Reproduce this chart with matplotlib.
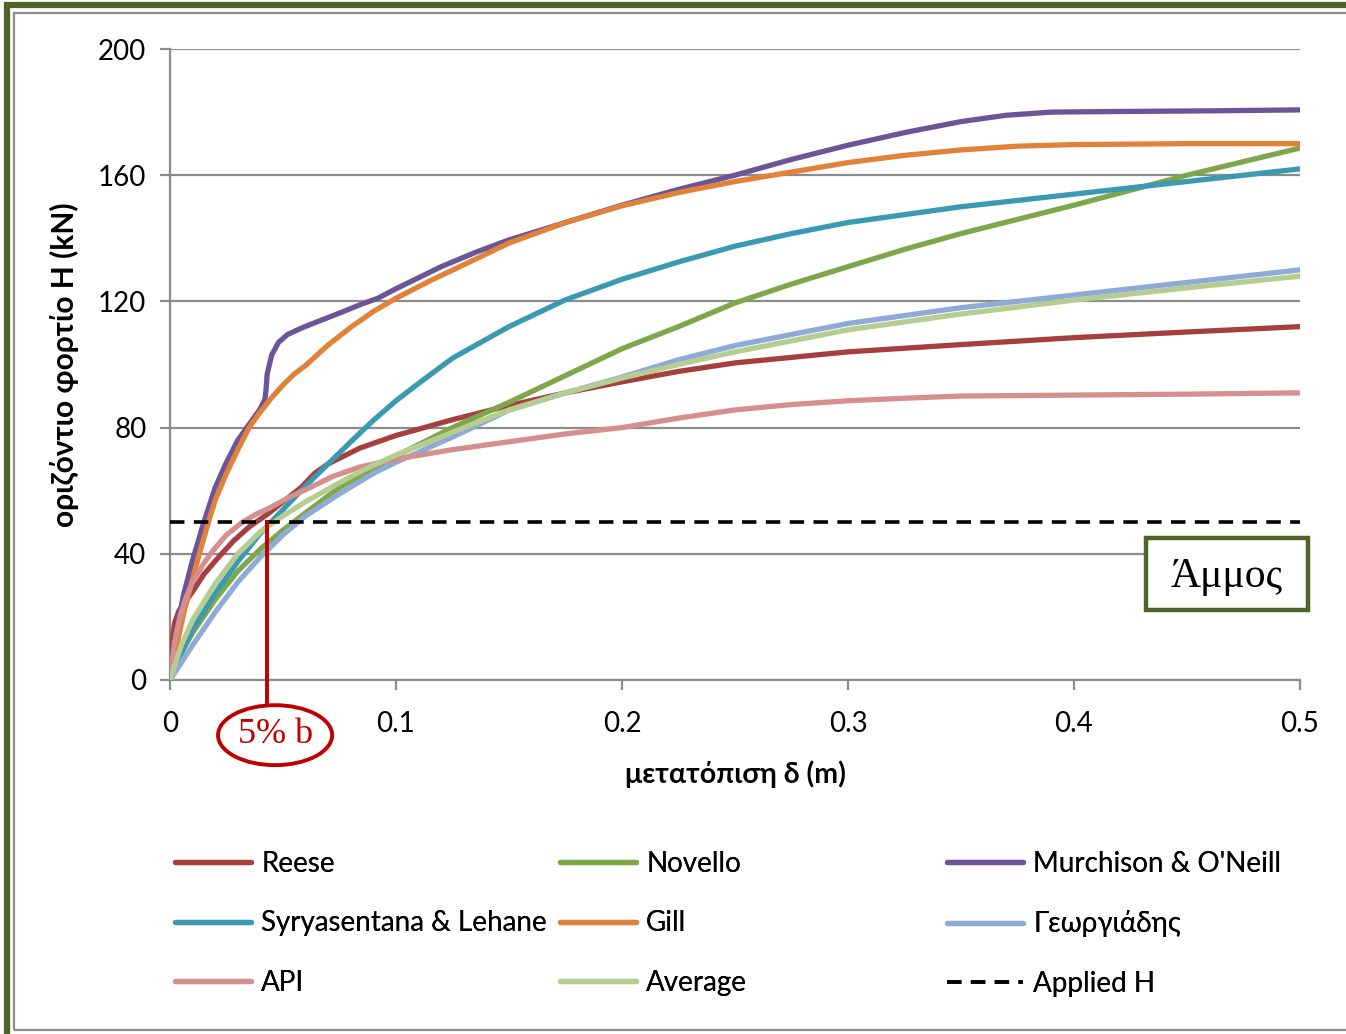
import matplotlib.pyplot as plt
from matplotlib.patches import Ellipse, Rectangle

plt.rcParams['font.family'] = ['Lato', 'DejaVu Sans']

# μετατόπιση δ (m) και οριζόντιο φορτίο H (kN) ανά μέθοδο
reese_x = [0, 0.001, 0.002, 0.004, 0.007, 0.01, 0.015, 0.021, 0.028, 0.035, 0.044, 0.05, 0.058, 0.064, 0.07,
           0.077, 0.084, 0.1, 0.125, 0.15, 0.175, 0.2, 0.225, 0.25, 0.3, 0.35, 0.4, 0.45, 0.5]
reese_y = [0, 12, 18, 22, 25, 28, 33.5, 38.5, 44, 48.5, 53, 56.5, 61, 65.5, 68.5,
           71, 73.5, 77.5, 82.5, 87, 91, 94.5, 97.8, 100.5, 104, 106.3, 108.5, 110.3, 112]

novello_x = [0, 0.005, 0.01, 0.02, 0.03, 0.04, 0.05, 0.06, 0.075, 0.09, 0.1, 0.125, 0.15, 0.175, 0.2, 0.225,
             0.25, 0.275, 0.3, 0.325, 0.35, 0.375, 0.4, 0.45, 0.5]
novello_y = [0, 8.5, 15, 25.5, 34.5, 41.5, 47.5, 53, 61, 67, 71, 80, 88, 96.5, 105, 112,
             119.5, 125.5, 131, 136.5, 141.5, 146, 150.5, 160, 168.6]

murchison_x = [0, 0.003, 0.006, 0.01, 0.015, 0.02, 0.025, 0.03, 0.035, 0.04, 0.042, 0.0425, 0.043, 0.045,
               0.048, 0.052, 0.058, 0.065, 0.075, 0.085, 0.092, 0.1, 0.11, 0.12, 0.135, 0.15, 0.175, 0.2,
               0.225, 0.25, 0.275, 0.3, 0.325, 0.35, 0.37, 0.39, 0.42, 0.46, 0.5]
murchison_y = [0, 16, 27, 38, 50, 61, 69, 76, 81, 86, 89, 92, 97, 103,
               107, 109.5, 111.5, 113.5, 116.3, 119.2, 121, 124, 127.5, 131, 135.5, 139.5, 145, 150.5,
               155.5, 160, 165, 169.5, 173.5, 177, 179, 180, 180.2, 180.4, 180.7]

syry_x = [0, 0.005, 0.01, 0.02, 0.03, 0.04, 0.05, 0.06, 0.07, 0.08, 0.09, 0.1, 0.11, 0.125, 0.15, 0.175,
          0.2, 0.225, 0.25, 0.275, 0.3, 0.35, 0.4, 0.45, 0.5]
syry_y = [0, 8.5, 16, 27.5, 37.5, 46.5, 54, 61.5, 68.5, 75.5, 82.3, 88.5, 94, 102, 112, 120.5,
          127, 132.5, 137.5, 141.5, 145, 150, 154, 158, 162]

gill_x = [0, 0.003, 0.006, 0.01, 0.013, 0.017, 0.02, 0.025, 0.03, 0.035, 0.04, 0.045, 0.05, 0.055, 0.06,
          0.07, 0.08, 0.09, 0.1, 0.115, 0.137, 0.15, 0.175, 0.2, 0.225, 0.25, 0.275, 0.3, 0.325, 0.35,
          0.375, 0.4, 0.45, 0.5]
gill_y = [0, 11, 21, 32, 40, 50, 57, 65.5, 73, 80, 85, 89.5, 93.5, 97, 99.7,
          106.2, 111.8, 116.8, 121, 126.5, 134, 138.5, 145, 150.3, 154.5, 158, 161, 164, 166.3, 168,
          169.2, 169.7, 170, 170]

georg_x = [0, 0.005, 0.01, 0.02, 0.03, 0.04, 0.05, 0.06, 0.075, 0.09, 0.1, 0.125, 0.15, 0.175, 0.2, 0.225,
           0.25, 0.3, 0.35, 0.4, 0.45, 0.5]
georg_y = [0, 5.5, 11, 21.5, 31, 39, 46, 52, 59, 65.5, 69, 77, 85.5, 91, 96, 101.5,
           106, 113, 118, 122, 126, 130]

api_x = [0, 0.002, 0.0044, 0.007, 0.01, 0.015, 0.019, 0.025, 0.032, 0.038, 0.044, 0.053, 0.062, 0.072, 0.084,
         0.1, 0.125, 0.15, 0.175, 0.2, 0.225, 0.25, 0.275, 0.3, 0.325, 0.35, 0.4, 0.45, 0.5]
api_y = [0, 12, 20, 26, 31, 37, 41, 46, 50, 52.5, 54.5, 58, 61, 64.5, 67.5,
         70, 73, 75.5, 78, 80, 83, 85.6, 87.3, 88.5, 89.3, 90, 90.3, 90.6, 91]

avg_x = [0, 0.005, 0.01, 0.02, 0.03, 0.04, 0.05, 0.06, 0.075, 0.084, 0.1, 0.125, 0.15, 0.175, 0.2, 0.225,
         0.25, 0.3, 0.35, 0.4, 0.45, 0.5]
avg_y = [0, 11, 19, 30.5, 40, 47, 52, 56.5, 62.5, 66, 71.3, 78.5, 85.6, 91, 95.7, 100,
         104, 111, 116, 120.4, 124.3, 128]

applied_h = 50
delta_5pc = 0.043

series = [
    ('Reese', reese_x, reese_y, '#a5403e'),
    ('Novello', novello_x, novello_y, '#7fa64a'),
    ('Murchison & O\'Neill', murchison_x, murchison_y, '#6c5596'),
    ('Syryasentana & Lehane', syry_x, syry_y, '#3b9ab2'),
    ('Gill', gill_x, gill_y, '#e0823a'),
    ('Γεωργιάδης', georg_x, georg_y, '#8eaad6'),
    ('API', api_x, api_y, '#d58f8e'),
    ('Average', avg_x, avg_y, '#b6cd92'),
]

fig = plt.figure(figsize=(13.46, 10.34), dpi=100)
ax = fig.add_axes([0.1263, 0.3424, 0.8395, 0.6102])

handles = {}
for name, xs, ys, col in series:
    h, = ax.plot(xs, ys, color=col, lw=3.8, solid_capstyle='round', solid_joinstyle='round', zorder=3)
    handles[name] = h

dash, = ax.plot([0, 0.5], [applied_h, applied_h], color='black', lw=2.6, dashes=(4, 2.6), zorder=4)
handles['Applied H'] = dash

# κόκκινη ένδειξη για δ = 5% b
ax.plot([delta_5pc, delta_5pc], [applied_h, -7], color='#c00000', lw=2.8, clip_on=False, zorder=5)
ax.add_patch(Ellipse((0.0465, -17.5), 0.0505, 19, transform=ax.transData, fill=False,
                     edgecolor='#c00000', lw=2.8, clip_on=False, zorder=5))
ax.text(0.0465, -17.3, '5% b', color='#c00000', fontsize=26, family='Liberation Serif',
        ha='center', va='center', clip_on=False)

# πλαίσιο Άμμος
fig.patches.append(Rectangle((1146 / 1346, 1 - 610 / 1034), 162 / 1346, 72 / 1034,
                             transform=fig.transFigure, fill=True, facecolor='white',
                             edgecolor='#4f6228', lw=3.2, zorder=6))
fig.text(1227 / 1346, 1 - 577 / 1034, 'Άμμος', fontsize=30, family='Liberation Serif',
         ha='center', va='center', zorder=7)

ax.set_xlim(0, 0.5)
ax.set_ylim(0, 200)
ax.set_xticks([0, 0.1, 0.2, 0.3, 0.4, 0.5])
ax.set_xticklabels(['0', '0.1', '0.2', '0.3', '0.4', '0.5'])
ax.set_yticks([0, 40, 80, 120, 160, 200])
ax.grid(axis='y', color='#8c8c8c', lw=1.6)
ax.set_axisbelow(True)
for s in ['top', 'right']:
    ax.spines[s].set_visible(False)
for s in ['left', 'bottom']:
    ax.spines[s].set_color('#8c8c8c')
    ax.spines[s].set_linewidth(1.6)
ax.tick_params(axis='both', colors='#8c8c8c', labelcolor='black', labelsize=20, length=7, width=1.6)
ax.tick_params(axis='x', pad=15)
ax.tick_params(axis='y', pad=10)

ax.set_xlabel('μετατόπιση δ (m)', fontsize=20.5, fontweight='bold', labelpad=17)
ax.set_ylabel('οριζόντιο φορτίο Η (kN)', fontsize=21.5, fontweight='bold', labelpad=14)

# υπόμνημα σε τρεις στήλες
columns = [['Reese', 'Syryasentana & Lehane', 'API'],
           ['Novello', 'Gill', 'Average'],
           ['Murchison & O\'Neill', 'Γεωργιάδης', 'Applied H']]
col_left = [150, 535, 922]
for names, left in zip(columns, col_left):
    leg = fig.legend([handles[k] for k in names], names, loc='upper left',
                     bbox_to_anchor=(left / 1346, 1 - 826 / 1034), frameon=False, fontsize=20,
                     handlelength=2.75, handletextpad=0.35, labelspacing=1.2)
    fig.add_artist(leg)

# εξωτερικό πλαίσιο
fig.patches.append(Rectangle((0.0055, -0.01), 1.1, 1 - 0.0045 + 0.01, transform=fig.transFigure,
                             fill=False, edgecolor='#4f6228', lw=4.5))
fig.patches.append(Rectangle((0.0101, 1 - 1030 / 1034), 1.1, (1030 - 13) / 1034, transform=fig.transFigure,
                             fill=False, edgecolor='#8c8c8c', lw=1.6))

fig.savefig('out.png', dpi=100, facecolor='white')
